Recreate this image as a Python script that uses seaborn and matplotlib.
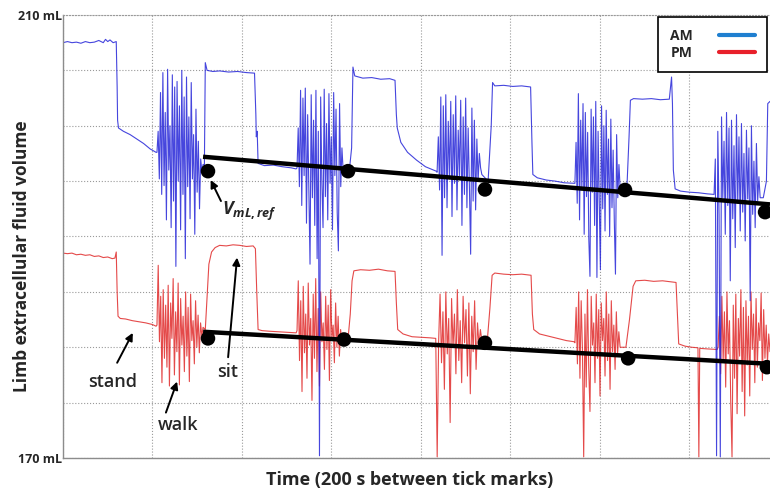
import numpy as np
import pandas as pd
import matplotlib
matplotlib.use("Agg")
import matplotlib.pyplot as plt
import seaborn as sns
from matplotlib.lines import Line2D

# time in seconds, volume in mL
am_steady_t = [0, 10, 20, 30, 40, 50, 60, 70, 80, 90, 95, 100, 105, 112, 119,
               121, 122, 124, 135, 150, 165, 180, 195, 208,
               316, 318, 322, 335, 350, 370, 390, 410, 428,
               431, 432, 434, 436, 450, 470, 490, 510, 521,
               640, 645, 648, 652, 670, 690, 710, 730, 742,
               745, 747, 755, 770, 790, 810, 834,
               950, 957, 960, 965, 985, 1005, 1025, 1045,
               1048, 1050, 1060, 1080, 1100, 1120, 1142,
               1260, 1265, 1268, 1275, 1295, 1315, 1335, 1355, 1360, 1362,
               1364, 1368, 1380, 1400, 1420, 1440, 1453,
               1565, 1572, 1575, 1580]
am_steady_v = [207.5, 207.6, 207.5, 207.55, 207.45, 207.6, 207.5, 207.55, 207.7, 207.5, 207.8, 207.6, 207.75, 207.5, 207.6,
               203.5, 200.5, 199.8, 199.5, 199.2, 198.8, 198.4, 197.9, 197.6,
               196.5, 205.7, 205.0, 204.9, 204.95, 204.85, 204.9, 204.8, 204.75,
               201.0, 199.0, 199.5, 196.6, 196.4, 196.45, 196.3, 196.2, 196.1,
               196.0, 198.0, 205.3, 204.5, 204.3, 204.35, 204.2, 204.25, 204.1,
               201.0, 199.8, 198.5, 197.6, 196.9, 196.3, 195.9,
               195.0, 200.0, 203.9, 203.6, 203.65, 203.55, 203.6, 203.5,
               198.5, 195.6, 195.3, 195.1, 195.0, 194.85, 194.8,
               194.2, 199.0, 202.3, 202.45, 202.4, 202.45, 202.35, 202.4, 204.4, 202.0,
               196.0, 194.3, 194.1, 194.0, 193.95, 193.85, 193.8,
               193.5, 195.0, 202.0, 202.2]

am_walk_windows = [(210, 313), (523, 626), (836, 936), (1144, 1245), (1455, 1558)]
am_walk1 = [197.6, 199.5, 195.2, 203.0, 193.8, 204.8, 194.6, 201.2, 191.5, 205.1, 196.0, 200.0, 190.8, 204.6,
            193.2, 203.5, 187.3, 204.0, 195.0, 201.8, 190.6, 205.0, 193.8, 202.6, 188.0, 204.4, 194.5, 200.8,
            191.6, 203.9, 195.2, 199.2, 190.2, 201.5, 194.0, 198.6, 192.5, 197.0, 195.8, 196.5]
am_walk2 = [196.2, 199.8, 194.5, 203.2, 192.8, 202.5, 195.5, 203.4, 191.2, 201.0, 194.0, 187.5, 202.8, 193.5,
            200.5, 191.0, 203.2, 188.0, 199.5, 170.2, 202.6, 195.0, 190.8, 203.3, 193.6, 200.2, 191.5, 202.9,
            194.8, 199.0, 190.6, 203.0, 195.5, 201.5, 192.2, 188.7, 202.0, 194.5, 198.0, 196.0]
am_walk3 = [195.8, 199.0, 194.2, 202.6, 188.3, 201.8, 193.5, 202.8, 192.6, 200.4, 195.2, 202.2, 191.8, 201.0,
            194.8, 202.7, 192.4, 199.6, 195.5, 202.3, 191.0, 200.8, 193.8, 202.5, 192.6, 199.8, 194.6, 188.4,
            201.6, 193.2, 200.5, 192.4, 198.8, 195.0, 197.5, 196.2, 195.6]
am_walk4 = [194.8, 198.5, 193.0, 202.9, 191.5, 200.5, 194.2, 202.0, 190.2, 201.2, 193.6, 199.4, 189.8, 186.4,
            201.5, 194.0, 200.8, 191.0, 202.2, 186.3, 199.5, 193.2, 187.0, 201.8, 192.5, 200.0, 190.5, 201.4,
            193.8, 198.8, 190.0, 200.6, 192.6, 197.8, 191.4, 186.6, 199.2, 193.5, 196.5, 194.4]
am_walk5 = [193.8, 197.0, 170.2, 199.5, 192.0, 170.1, 200.8, 193.5, 198.6, 190.2, 201.2, 192.8, 199.8, 186.0,
            200.5, 191.6, 198.2, 189.0, 201.0, 193.0, 199.0, 190.5, 200.2, 192.2, 197.5, 189.6, 199.6, 193.4,
            198.0, 184.2, 200.0, 192.0, 196.8, 190.8, 198.4, 193.2, 195.4, 193.5]

pm_steady_t = [0, 10, 20, 30, 40, 50, 60, 70, 80, 90, 100, 110, 116, 119,
               121, 123, 128, 140, 155, 170, 185, 200, 208,
               318, 322, 326, 332, 340, 350, 365, 380, 395, 410, 425, 430,
               433, 436, 445, 460, 480, 500, 521,
               638, 642, 646, 650, 665, 685, 705, 725, 742,
               745, 748, 760, 780, 800, 820, 832,
               948, 954, 959, 965, 985, 1005, 1025, 1046,
               1049, 1052, 1065, 1085, 1105, 1125, 1142,
               1258, 1266, 1274, 1280, 1300, 1320, 1340, 1360, 1370,
               1373, 1376, 1390, 1405, 1419, 1421, 1423, 1440, 1462]
pm_steady_v = [188.5, 188.45, 188.5, 188.35, 188.4, 188.3, 188.35, 188.2, 188.25, 188.1, 188.15, 188.0, 188.05, 188.6,
               185.0, 182.8, 182.6, 182.55, 182.4, 182.3, 182.2, 182.05, 181.9,
               181.6, 184.5, 187.5, 188.6, 189.0, 189.2, 189.15, 189.25, 189.2, 189.1, 189.15, 188.9,
               185.0, 181.6, 181.5, 181.45, 181.4, 181.35, 181.3,
               181.2, 183.0, 186.0, 186.9, 187.0, 186.95, 187.05, 186.9, 186.85,
               184.0, 181.6, 181.2, 180.95, 180.9, 180.85, 180.8,
               180.5, 183.5, 186.5, 186.7, 186.6, 186.55, 186.6, 186.5,
               183.0, 181.6, 181.2, 181.0, 180.8, 180.6, 180.5,
               180.0, 182.5, 185.5, 186.0, 186.05, 185.95, 186.0, 185.9, 185.85,
               183.0, 180.3, 180.1, 180.0, 179.95, 170.1, 179.9, 179.85, 179.8]

pm_walk_windows = [(210, 313), (523, 626), (833, 936), (1144, 1245), (1464, 1580)]
pm_walk1 = [182.0, 187.4, 180.5, 184.6, 176.8, 185.2, 179.0, 183.8, 178.2, 185.6, 176.5, 184.0, 180.8, 186.2,
            177.5, 183.2, 179.6, 185.8, 176.6, 184.4, 180.2, 182.8, 177.8, 185.0, 179.2, 183.6, 176.9, 184.8,
            180.6, 182.4, 178.5, 184.2, 180.0, 182.9, 179.5, 182.2, 181.0, 181.8]
pm_walk2 = [181.5, 186.0, 178.8, 184.2, 176.0, 185.5, 179.5, 183.0, 177.2, 185.8, 180.2, 182.6, 175.2, 184.8,
            179.0, 186.2, 177.8, 183.5, 176.5, 185.0, 180.5, 182.2, 178.0, 184.6, 179.8, 183.8, 177.0, 185.2,
            180.8, 182.0, 178.6, 184.0, 180.0, 182.8, 179.2, 181.6, 180.4, 181.2]
pm_walk3 = [180.8, 170.1, 180.5, 184.8, 178.6, 183.2, 176.2, 185.0, 179.4, 182.6, 173.2, 184.4, 180.0, 183.0,
            177.6, 185.2, 178.8, 182.4, 176.8, 184.6, 180.4, 183.4, 177.4, 184.0, 175.8, 182.8, 179.6, 184.2,
            178.0, 182.2, 180.2, 181.6, 180.6]
pm_walk4 = [180.4, 183.6, 178.5, 185.0, 177.2, 184.2, 179.8, 170.1, 183.0, 176.4, 185.2, 178.2, 174.2, 184.6,
            180.2, 182.2, 176.8, 184.8, 179.0, 183.4, 175.6, 184.0, 180.6, 182.6, 177.4, 185.0, 178.8, 183.0,
            176.2, 184.2, 179.6, 182.0, 178.0, 183.2, 179.4, 181.4, 180.0]
pm_walk5 = [180.0, 182.8, 177.6, 184.6, 178.8, 183.2, 176.4, 185.0, 179.4, 182.4, 175.0, 170.1, 183.8, 177.2,
            184.8, 174.0, 182.6, 179.2, 185.2, 176.0, 183.6, 173.8, 184.2, 178.4, 182.8, 175.6, 185.0, 179.8,
            183.0, 176.8, 184.4, 178.2, 182.2, 180.6, 184.9, 177.0, 183.4, 179.0, 182.0, 178.6, 181.2, 179.6]

# V_mL,ref fits and reference points
am_fit_t = [313, 1580]
am_fit_v = [197.2, 192.9]
am_ref_t = [324, 637, 943, 1256, 1569]
am_ref_v = [195.9, 195.9, 194.25, 194.2, 192.2]
pm_fit_t = [313, 1580]
pm_fit_v = [181.4, 178.5]
pm_ref_t = [324, 628, 943, 1263, 1573]
pm_ref_v = [180.8, 180.7, 180.4, 179.0, 178.2]


def build_trace(steady_t, steady_v, windows, walks, label):
    t = list(steady_t)
    v = list(steady_v)
    for (start, end), vals in zip(windows, walks):
        t += list(np.linspace(start, end, len(vals)))
        v += list(vals)
    df = pd.DataFrame({"t": t, "volume": v}).sort_values("t")
    df["session"] = label
    return df


am = build_trace(am_steady_t, am_steady_v, am_walk_windows,
                 [am_walk1, am_walk2, am_walk3, am_walk4, am_walk5], "AM")
pm = build_trace(pm_steady_t, pm_steady_v, pm_walk_windows,
                 [pm_walk1, pm_walk2, pm_walk3, pm_walk4, pm_walk5], "PM")

sns.set_style("white")
plt.rcParams["font.family"] = ["Open Sans", "DejaVu Sans"]
plt.rcParams["mathtext.fontset"] = "custom"
plt.rcParams["mathtext.it"] = "Open Sans:italic:bold"
plt.rcParams["mathtext.rm"] = "Open Sans:bold"

fig = plt.figure(figsize=(7.7, 4.96), dpi=100)
ax = fig.add_axes([63 / 770, 38 / 496, 1 - 63 / 770, 443 / 496])

sns.lineplot(data=pm, x="t", y="volume", color="#e02a2a", lw=0.8, alpha=0.85,
             estimator=None, sort=False, ax=ax)
sns.lineplot(data=am, x="t", y="volume", color="#2525d8", lw=0.8, alpha=0.85,
             estimator=None, sort=False, ax=ax)

for ft, fv, rt, rv in [(am_fit_t, am_fit_v, am_ref_t, am_ref_v),
                       (pm_fit_t, pm_fit_v, pm_ref_t, pm_ref_v)]:
    ax.plot(ft, fv, color="black", lw=3.2, solid_capstyle="butt", zorder=5)
    sns.scatterplot(x=rt, y=rv, color="black", s=110, edgecolor="none", zorder=6, ax=ax)

ax.set_xlim(0, 1580)
ax.set_ylim(170, 210)
ax.set_xticks(np.arange(0, 1600, 200))
ax.set_xticklabels([])
ax.set_yticks(np.arange(170, 211, 5))
ax.set_yticklabels(["170 mL"] + [""] * 7 + ["210 mL"], fontsize=9, fontweight="bold")
ax.tick_params(length=0, pad=1)
ax.grid(True, color="#9a9a9a", ls=":", lw=0.8)
for side in ["left", "bottom"]:
    ax.spines[side].set_color("#8c8c8c")
    ax.spines[side].set_linewidth(1.0)
ax.spines["top"].set_color("#9a9a9a")
ax.spines["top"].set_linestyle(":")
ax.spines["right"].set_visible(False)

ax.set_xlabel("Time (200 s between tick marks)", fontsize=13, fontweight="bold", va="center")
ax.xaxis.set_label_coords(0.49, -0.05)
ax.set_ylabel("Limb extracellular fluid volume", fontsize=12.5, fontweight="bold", va="center")
ax.yaxis.set_label_coords(-0.058, 0.456)

arrow = dict(arrowstyle="-|>", color="black", lw=1.4, mutation_scale=11, shrinkA=0, shrinkB=0)
ax.annotate("", xy=(330, 195.1), xytext=(353, 193.2), arrowprops=arrow)
ax.text(356, 192.3, r"$V_{mL,ref}$", fontsize=13, va="center", ha="left")
ax.annotate("", xy=(156, 181.3), xytext=(121, 178.6), arrowprops=arrow)
ax.text(110, 176.9, "stand", fontsize=13, fontweight="semibold", ha="center", va="center")
ax.annotate("", xy=(255, 176.9), xytext=(230, 174.1), arrowprops=arrow)
ax.text(257, 173.0, "walk", fontsize=13, fontweight="semibold", ha="center", va="center")
ax.annotate("", xy=(389, 188.1), xytext=(369, 179.1), arrowprops=arrow)
ax.text(369, 177.8, "sit", fontsize=13, fontweight="semibold", ha="center", va="center")

handles = [Line2D([], [], color="#1f7fd0", lw=3), Line2D([], [], color="#e8202a", lw=3)]
leg = fig.legend(handles, ["AM", "PM"], loc="upper left", bbox_to_anchor=(658 / 770, 1 - 17 / 496),
                 frameon=True, fancybox=False, framealpha=1, edgecolor="black", markerfirst=False,
                 handlelength=2.6, handletextpad=1.9, borderpad=0.85, labelspacing=0.25,
                 borderaxespad=0, prop={"weight": "bold", "size": 10})
leg.get_frame().set_linewidth(1.2)

fig.savefig("out.png", dpi=100)
